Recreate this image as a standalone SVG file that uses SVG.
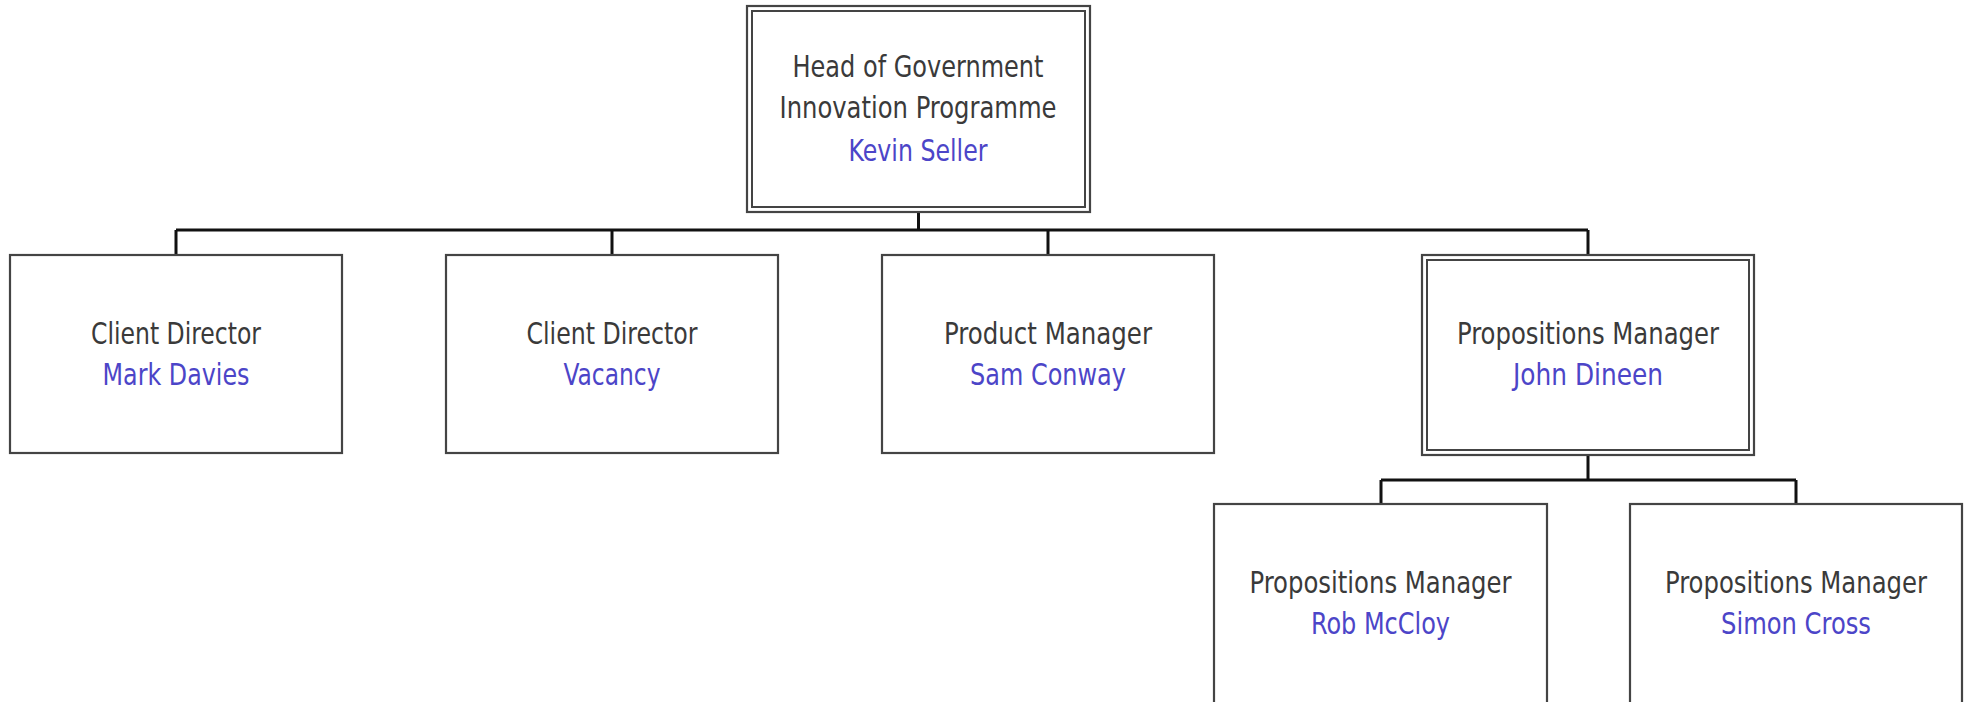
<svg xmlns="http://www.w3.org/2000/svg" width="1965" height="702" viewBox="0 0 1965 702">
<style>
.box{fill:#fff;stroke:#444;stroke-width:2.2}
.dbl{fill:none;stroke:#444;stroke-width:2}
.conn{fill:none;stroke:#111;stroke-width:3}
text{font-family:"DejaVu Sans Condensed","DejaVu Sans","Liberation Sans",sans-serif;font-stretch:condensed;font-size:31px;text-anchor:middle}
.t{fill:#3a3a3a}
.n{fill:#4c45c8}
</style>
<rect width="1965" height="702" fill="#fff"/>
<g id="connectors">
<path class="conn" d="M918.5 212V230M176 230H1588M176 230V255M612 230V255M1048 230V255M1588 230V255"/>
<path class="conn" d="M1588 455V480M1381 480H1796M1381 480V504M1796 480V504"/>
</g>
<g id="head">
<rect class="box" x="747" y="6" width="343" height="206"/>
<rect class="dbl" x="752" y="11" width="333" height="196"/>
<text class="t" x="918" y="77" textLength="251" lengthAdjust="spacingAndGlyphs">Head of Government</text>
<text class="t" x="918" y="118" textLength="277" lengthAdjust="spacingAndGlyphs">Innovation Programme</text>
<text class="n" x="918" y="161" textLength="139" lengthAdjust="spacingAndGlyphs">Kevin Seller</text>
</g>
<g id="client1">
<rect class="box" x="10" y="255" width="332" height="198"/>
<text class="t" x="176" y="344" textLength="170" lengthAdjust="spacingAndGlyphs">Client Director</text>
<text class="n" x="176" y="385" textLength="147" lengthAdjust="spacingAndGlyphs">Mark Davies</text>
</g>
<g id="client2">
<rect class="box" x="446" y="255" width="332" height="198"/>
<text class="t" x="612" y="344" textLength="171" lengthAdjust="spacingAndGlyphs">Client Director</text>
<text class="n" x="612" y="385" textLength="97" lengthAdjust="spacingAndGlyphs">Vacancy</text>
</g>
<g id="product">
<rect class="box" x="882" y="255" width="332" height="198"/>
<text class="t" x="1048" y="344" textLength="208" lengthAdjust="spacingAndGlyphs">Product Manager</text>
<text class="n" x="1048" y="385" textLength="156" lengthAdjust="spacingAndGlyphs">Sam Conway</text>
</g>
<g id="propositions">
<rect class="box" x="1422" y="255" width="332" height="200"/>
<rect class="dbl" x="1427" y="260" width="322" height="190"/>
<text class="t" x="1588" y="344" textLength="262" lengthAdjust="spacingAndGlyphs">Propositions Manager</text>
<text class="n" x="1588" y="385" textLength="150" lengthAdjust="spacingAndGlyphs">John Dineen</text>
</g>
<g id="rob">
<rect class="box" x="1214" y="504" width="333" height="220"/>
<text class="t" x="1380.5" y="593" textLength="262" lengthAdjust="spacingAndGlyphs">Propositions Manager</text>
<text class="n" x="1380.5" y="634" textLength="139" lengthAdjust="spacingAndGlyphs">Rob McCloy</text>
</g>
<g id="simon">
<rect class="box" x="1630" y="504" width="332" height="220"/>
<text class="t" x="1796" y="593" textLength="262" lengthAdjust="spacingAndGlyphs">Propositions Manager</text>
<text class="n" x="1796" y="634" textLength="150" lengthAdjust="spacingAndGlyphs">Simon Cross</text>
</g>
</svg>
